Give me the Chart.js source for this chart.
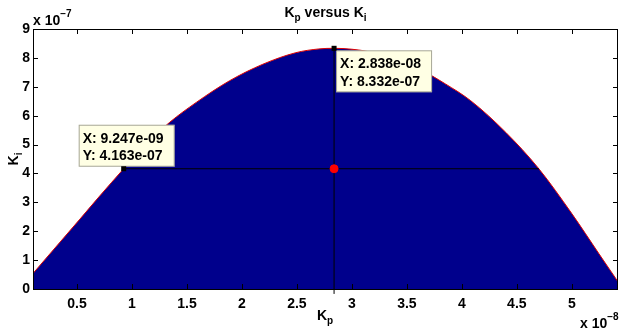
<!DOCTYPE html>
<html><head><meta charset="utf-8">
<script src="https://cdn.jsdelivr.net/npm/chart.js@4.4.1/dist/chart.umd.min.js"></script>
<style>html,body{margin:0;padding:0;background:#fff;}#c{display:block;}</style>
</head><body>
<canvas id="c" width="624" height="332"></canvas>
<script>
// Kp in units of 1e-8, Ki in units of 1e-7
const kp = [0.10, 0.30, 0.527, 0.70, 0.925, 1.13, 1.343, 1.585, 1.888, 2.19, 2.49, 2.70, 2.838, 3.00, 3.16, 3.40, 3.61, 3.85, 4.08, 4.40, 4.70, 5.00, 5.245, 5.42];
const ki = [0.54, 1.42, 2.42, 3.19, 4.163, 5.02, 5.77, 6.46, 7.21, 7.78, 8.18, 8.31, 8.332, 8.30, 8.21, 7.95, 7.62, 7.10, 6.52, 5.42, 4.163, 2.61, 1.23, 0.25];
const xTicks = [0.5, 1, 1.5, 2, 2.5, 3, 3.5, 4, 4.5, 5];
const yTicks = [0, 1, 2, 3, 4, 5, 6, 7, 8, 9];
const tipX = [0.9247, 2.838];
const tipY = [4.163, 8.332];
const tipText = [['X: 9.247e-09', 'Y: 4.163e-07'], ['X: 2.838e-08', 'Y: 8.332e-07']];
const hLineX = [0.9247, 4.70];
const hLineY = [4.163, 4.163];
const vLineX = [2.838, 2.838];
const vLineY = [-0.17, 8.332];
const dotX = [2.838];
const dotY = [4.163];

const FONT = '"Liberation Sans", Arial, Helvetica, sans-serif';
const pts = (xs, ys) => xs.map((x, i) => ({x: x, y: ys[i]}));

function subText(ctx, parts, x, y, align) {
  const fonts = {n: 'bold 14px ' + FONT, s: 'bold 10px ' + FONT, u: 'bold 10px ' + FONT};
  const offs = {n: 0, s: 4, u: -8};
  let w = 0;
  parts.forEach(p => { ctx.font = fonts[p[1]]; w += ctx.measureText(p[0]).width; });
  let cx = align === 'center' ? x - w / 2 : (align === 'right' ? x - w : x);
  ctx.textAlign = 'left';
  ctx.textBaseline = 'alphabetic';
  parts.forEach(p => {
    ctx.font = fonts[p[1]];
    ctx.fillText(p[0], cx, y + offs[p[1]]);
    cx += ctx.measureText(p[0]).width;
  });
}

const decor = {
  id: 'decor',
  afterDatasetsDraw(chart) {
    const ctx = chart.ctx, a = chart.chartArea;
    const xs = chart.scales.x, ys = chart.scales.y;
    ctx.save();
    ctx.strokeStyle = '#000';
    ctx.lineWidth = 1;
    ctx.beginPath();
    xs.ticks.forEach(t => {
      const px = Math.round(xs.getPixelForValue(t.value)) + 0.5;
      ctx.moveTo(px, a.bottom); ctx.lineTo(px, a.bottom - 5);
      ctx.moveTo(px, a.top); ctx.lineTo(px, a.top + 5);
    });
    ys.ticks.forEach(t => {
      const py = Math.round(ys.getPixelForValue(t.value)) + 0.5;
      ctx.moveTo(a.left, py); ctx.lineTo(a.left + 5, py);
      ctx.moveTo(a.right, py); ctx.lineTo(a.right - 5, py);
    });
    ctx.stroke();
    ctx.strokeRect(Math.round(a.left) + 0.5, Math.round(a.top) + 0.5, Math.round(a.right - a.left) - 1, Math.round(a.bottom - a.top));
    tipX.forEach((vx, i) => {
      const px = xs.getPixelForValue(vx), py = ys.getPixelForValue(tipY[i]);
      let bx, by;
      const bw = 96, bh = 42;
      if (i === 0) { bx = px - 45; by = py - 44; } else { bx = px + 2; by = py + 2; }
      ctx.fillStyle = '#ffffe4';
      ctx.fillRect(bx, by, bw, bh);
      ctx.strokeStyle = 'rgba(60,60,60,0.45)';
      ctx.strokeRect(bx + 0.5, by + 0.5, bw - 1, bh - 1);
      ctx.fillStyle = '#000';
      ctx.font = 'bold 14px ' + FONT;
      ctx.textAlign = 'left';
      ctx.textBaseline = 'alphabetic';
      ctx.fillText(tipText[i][0], bx + 4, by + 18);
      ctx.fillText(tipText[i][1], bx + 4, by + 35.5);
      ctx.fillRect(px - 2.5, py - 2.5, 5, 5);
    });
    ctx.fillStyle = '#000';
    subText(ctx, [['K', 'n'], ['p', 's'], [' versus K', 'n'], ['i', 's']], (a.left + a.right) / 2, 17, 'center');
    subText(ctx, [['K', 'n'], ['p', 's']], 317, 320, 'left');
    subText(ctx, [['x 10', 'n'], ['\u22127', 'u']], 33, 25, 'left');
    subText(ctx, [['x 10', 'n'], ['\u22128', 'u']], 580, 328, 'left');
    ctx.save();
    ctx.translate(18, 159);
    ctx.rotate(-Math.PI / 2);
    subText(ctx, [['K', 'n'], ['i', 's']], 0, 0, 'center');
    ctx.restore();
    ctx.restore();
  }
};

new Chart(document.getElementById('c'), {
  type: 'line',
  data: {
    datasets: [
      { data: pts(tipX, tipY), showLine: false, pointStyle: 'rect', pointRadius: 0, order: 1 },
      { data: pts(dotX, dotY), showLine: false, pointRadius: 4, pointBackgroundColor: '#ff0000', pointBorderColor: '#ff0000', order: 2 },
      { data: pts(hLineX, hLineY), borderColor: '#000', borderWidth: 1, pointRadius: 0, fill: false, order: 3 },
      { data: pts(vLineX, vLineY), borderColor: '#000', borderWidth: 1, pointRadius: 0, fill: false, clip: false, order: 4 },
      { data: pts(kp, ki), borderColor: '#e00000', borderWidth: 1, backgroundColor: '#00008c', fill: 'origin', pointRadius: 0, cubicInterpolationMode: 'monotone', order: 10 }
    ]
  },
  options: {
    responsive: false,
    animation: false,
    devicePixelRatio: 1,
    events: [],
    layout: { padding: { top: 29, right: 6, left: 0, bottom: 0 } },
    plugins: { legend: { display: false }, tooltip: { enabled: false }, title: { display: false } },
    scales: {
      x: {
        type: 'linear', min: 0.1, max: 5.42,
        afterBuildTicks: s => { s.ticks = xTicks.map(v => ({ value: v })); },
        afterFit: s => { s.height = 43; },
        grid: { display: false, drawTicks: false },
        border: { display: false },
        ticks: { color: '#000', font: { family: FONT, size: 14, weight: 'bold' }, padding: 7, maxRotation: 0, autoSkip: false, callback: v => String(v) }
      },
      y: {
        type: 'linear', min: 0, max: 9,
        afterBuildTicks: s => { s.ticks = yTicks.map(v => ({ value: v })); },
        afterFit: s => { s.width = 33; },
        grid: { display: false, drawTicks: false },
        border: { display: false },
        ticks: { color: '#000', font: { family: FONT, size: 14, weight: 'bold' }, padding: 3, autoSkip: false, callback: v => String(v) }
      }
    }
  },
  plugins: [decor]
});
</script>
</body></html>
